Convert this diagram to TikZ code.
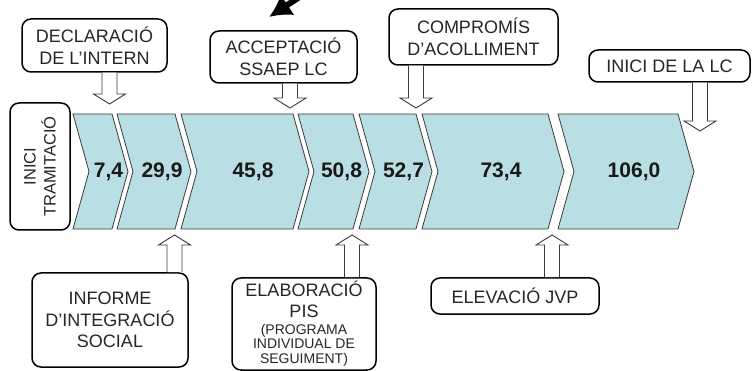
\documentclass[tikz,border=0pt]{standalone}
\usepackage{fontspec}
\setmainfont{Liberation Sans}
\usetikzlibrary{arrows.meta,calc}
\definecolor{bandBlue}{HTML}{B9DEE3}
\definecolor{edgeGrey}{HTML}{3A3A3A}
\definecolor{textGrey}{HTML}{262626}

\begin{document}
\begin{tikzpicture}[
  x=1pt,y=-1pt,
  box/.style={rectangle,rounded corners=9pt,draw=black,line width=1.5pt,fill=white,align=center,inner sep=0pt,text=textGrey,font=\fontsize{18}{21.5}\selectfont},
  chev/.style={fill=bandBlue,draw=edgeGrey,line width=0.8pt,line join=miter},
  num/.style={inner sep=0pt,text=black!90,font=\fontsize{21}{23}\selectfont\bfseries},
  hdown/.style={fill=white,draw=edgeGrey,line width=0.9pt,
    to path={let \p1=(\tikztostart),\p2=(\tikztotarget) in
      (\x2-7.5pt,\y1) -- (\x2-7.5pt,\y2+10pt) -- (\x2-16pt,\y2+10pt) -- (\x2,\y2)
      -- (\x2+16pt,\y2+10pt) -- (\x2+7.5pt,\y2+10pt) -- (\x2+7.5pt,\y1)}},
  hup/.style={fill=white,draw=edgeGrey,line width=0.9pt,
    to path={let \p1=(\tikztostart),\p2=(\tikztotarget) in
      (\x2-7.5pt,\y1) -- (\x2-7.5pt,\y2-10pt) -- (\x2-16pt,\y2-10pt) -- (\x2,\y2)
      -- (\x2+16pt,\y2-10pt) -- (\x2+7.5pt,\y2-10pt) -- (\x2+7.5pt,\y1)}}
]
\useasboundingbox (0,0) rectangle (752,371);

% timeline band
\foreach \l/\r/\v [count=\i] in {73/112/{7,4},117/175/{29,9},181/293/{45,8},298/353/{50,8},359/416/{52,7},422/548/{73,4},558/678/{106,0}}{
  \path[chev] (\l,114) -- (\r,114) -- (\r+16,171.5) -- (\r,229) -- (\l,229) -- (\l+16,171.5) -- cycle;
  \node[num] (n\i) at ({(\l+\r)/2+16},171.5) {\v};
}

% arrow tips
\coordinate (t1) at (109.5,104);
\coordinate (t2) at (290,108);
\coordinate (t3) at (416,108);
\coordinate (t4) at (700,131);
\coordinate (u1) at (174.5,235);
\coordinate (u2) at (352,235);
\coordinate (u3) at (552,235);

% boxes
\node[box,minimum width=145pt,minimum height=53pt] (decl) at (94.5,45.5) {DECLARACIÓ\\DE L'INTERN};
\node[box,minimum width=147pt,minimum height=52pt] (accept) at (283.5,57) {ACCEPTACIÓ\\SSAEP LC};
\node[box,minimum width=169pt,minimum height=56pt] (compr) at (473.5,37) {COMPROMÍS\\D'ACOLLIMENT};
\node[box,minimum width=161pt,minimum height=32pt] (inicilc) at (669.5,66) {INICI DE LA LC};
\node[box,rotate=90,minimum width=127pt,minimum height=60pt,font=\fontsize{16.5}{20}\selectfont] (tram) at (40,166.5) {INICI\\TRAMITACIÓ};
\node[box,minimum width=156pt,minimum height=94pt] (inform) at (110,320) {INFORME\\D'INTEGRACIÓ\\SOCIAL};
\node[box,minimum width=144pt,minimum height=92pt] (elab) at (304,324) {ELABORACIÓ\\PIS\\[-5pt]{\fontsize{14}{14.5}\selectfont\begin{tabular}[t]{@{}c@{}}(PROGRAMA\\INDIVIDUAL DE\\SEGUIMENT)\end{tabular}}};
\node[box,minimum width=168pt,minimum height=36pt] (elev) at (515,296) {ELEVACIÓ JVP};

% hollow arrows
\draw[hdown] (decl.south -| t1) to (t1);
\draw[hdown] (accept.south -| t2) to (t2);
\draw[hdown] (compr.south -| t3) to (t3);
\draw[hdown] (inicilc.south -| t4) to (t4);
\draw[hup] (inform.north -| u1) to (u1);
\draw[hup] (elab.north -| u2) to (u2);
\draw[hup] (elev.north -| u3) to (u3);

% black arrow at the top
\coordinate (topsrc) at (304,-6);
\coordinate (toptip) at (269,17);
\draw[line width=6pt,-{Latex[length=22pt,width=25pt]}] (topsrc) -- (toptip);
\end{tikzpicture}
\end{document}
